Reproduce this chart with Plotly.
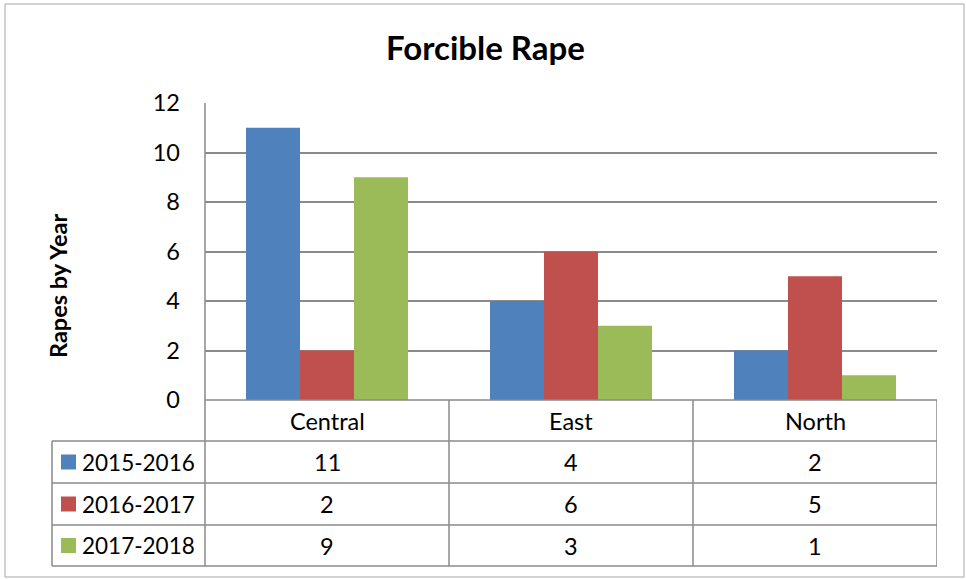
import plotly.graph_objects as go

# Chart data
title = "Forcible Rape"
y_title = "Rapes by Year"
categories = ["Central", "East", "North"]
series_names = ["2015-2016", "2016-2017", "2017-2018"]
values_2015_2016 = [11, 4, 2]
values_2016_2017 = [2, 6, 5]
values_2017_2018 = [9, 3, 1]
y_ticks = [0, 2, 4, 6, 8, 10, 12]

series_values = [values_2015_2016, values_2016_2017, values_2017_2018]
colors = ["#4F81BD", "#C0504D", "#9BBB59"]

# Page geometry (pixels)
W, H = 966, 579
L, R, T, B = 205, 29, 103, 179
PW, PH = W - L - R, H - T - B
FONT = "Lato"
TXT = 23.5
GRID = "#8a8a8a"


def px(x):
    return (x - L) / PW


def py(y):
    return (H - B - y) / PH


fig = go.Figure()
for name, vals, col in zip(series_names, series_values, colors):
    fig.add_trace(go.Bar(x=categories, y=vals, name=name, marker=dict(color=col, line=dict(width=0))))

shapes = []
annotations = []

# Outer chart border
shapes.append(dict(type="rect", xref="paper", yref="paper", x0=px(5), x1=px(964), y0=py(4), y1=py(577),
                   line=dict(color="#a6a6a6", width=1)))

# Data table: horizontal rules
row_tops = [400, 441, 483, 525, 566]
for i, yy in enumerate(row_tops):
    x_start = L if i == 0 else 52
    shapes.append(dict(type="line", xref="paper", yref="paper", x0=px(x_start), x1=1.0, y0=py(yy), y1=py(yy),
                       line=dict(color=GRID, width=1.5)))

# Data table: vertical rules (legend column edge, axis line, category boundaries)
shapes.append(dict(type="line", xref="paper", yref="paper", x0=px(52), x1=px(52), y0=py(441), y1=py(566),
                   line=dict(color=GRID, width=1.5)))
shapes.append(dict(type="line", xref="paper", yref="paper", x0=0, x1=0, y0=1, y1=py(566),
                   line=dict(color=GRID, width=1.5)))
for k in range(len(categories)):
    xb = k + 0.5
    shapes.append(dict(type="line", xref="x", yref="paper", x0=xb, x1=xb, y0=py(400), y1=py(566),
                       line=dict(color=GRID, width=1.5)))

# Category header row
for k, cat in enumerate(categories):
    annotations.append(dict(x=k, y=py(420.5), xref="x", yref="paper", text=cat, showarrow=False,
                            font=dict(family=FONT, size=TXT, color="#000000"), xanchor="center", yanchor="middle"))

# Series rows: legend key, name, values
for r, (name, vals, col) in enumerate(zip(series_names, series_values, colors)):
    top, bot = row_tops[r + 1], row_tops[r + 2]
    yc = (top + bot) / 2
    shapes.append(dict(type="rect", xref="paper", yref="paper", x0=px(61), x1=px(76), y0=py(yc - 7.5), y1=py(yc + 7.5),
                       fillcolor=col, line=dict(width=0)))
    annotations.append(dict(x=px(80), y=py(yc), xref="paper", yref="paper", text=name, showarrow=False,
                            font=dict(family=FONT, size=22.5, color="#000000"), xanchor="left", yanchor="middle"))
    for k, v in enumerate(vals):
        annotations.append(dict(x=k, y=py(yc), xref="x", yref="paper", text=str(v), showarrow=False,
                                font=dict(family=FONT, size=TXT, color="#000000"), xanchor="center", yanchor="middle"))

# Titles
annotations.append(dict(x=px(485), y=py(47), xref="paper", yref="paper", text="<b>" + title + "</b>", showarrow=False,
                        font=dict(family=FONT, size=33, color="#000000"), xanchor="center", yanchor="middle"))
annotations.append(dict(x=px(58), y=py(286), xref="paper", yref="paper", text="<b>" + y_title + "</b>", showarrow=False,
                        textangle=-90, font=dict(family=FONT, size=23.5, color="#000000"),
                        xanchor="center", yanchor="middle"))

fig.update_layout(
    width=W, height=H,
    margin=dict(l=L, r=R, t=T, b=B, pad=0),
    paper_bgcolor="#ffffff", plot_bgcolor="#ffffff",
    barmode="group", bargap=0.336, bargroupgap=0,
    showlegend=False,
    shapes=shapes, annotations=annotations,
    xaxis=dict(range=[-0.5, 2.5], showticklabels=False, showgrid=False, zeroline=False, showline=False,
               fixedrange=True),
    yaxis=dict(range=[0, 12], tickvals=y_ticks, showgrid=True, gridcolor=GRID, gridwidth=1.5,
               zeroline=False, showline=False, ticks="", ticklabelstandoff=24,
               tickfont=dict(family=FONT, size=TXT, color="#000000"), fixedrange=True),
)

fig.write_html("out.html", config={"displayModeBar": False})
